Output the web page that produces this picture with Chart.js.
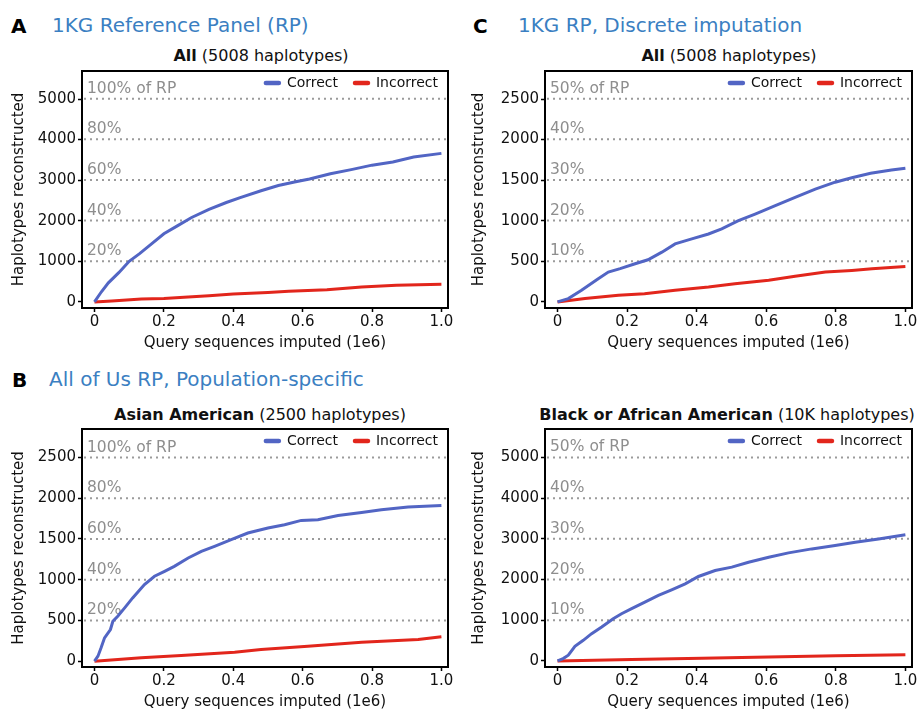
<!DOCTYPE html>
<html>
<head>
<meta charset="utf-8">
<script src="https://cdn.jsdelivr.net/npm/chart.js@4.4.1/dist/chart.umd.min.js"></script>
<style>
  body { margin: 0; background: #fff; font-family: "DejaVu Sans", Verdana, sans-serif; }
  #fig { position: relative; width: 919px; height: 712px; overflow: hidden; }
  .t { position: absolute; white-space: nowrap; line-height: 1; }
  .letter { font-weight: bold; font-size: 20px; color: #000; }
  .head { font-size: 20px; color: #3b7fc2; }
  .sub { font-size: 16px; color: #111; transform: translateX(-50%); }
  .sub b { font-weight: bold; }
  canvas { position: absolute; }
</style>
</head>
<body>
<div id="fig">
  <div class="t letter" style="left:11px;top:16px">A</div>
  <div class="t head" style="left:52px;top:15px">1KG Reference Panel (RP)</div>
  <div class="t letter" style="left:473px;top:16px">C</div>
  <div class="t head" style="left:518px;top:15px">1KG RP, Discrete imputation</div>
  <div class="t letter" style="left:12px;top:370px">B</div>
  <div class="t head" style="left:49px;top:369px">All of Us RP, Population-specific</div>

  <div class="t sub" style="left:261px;top:48px"><b>All</b> (5008 haplotypes)</div>
  <div class="t sub" style="left:729px;top:48px"><b>All</b> (5008 haplotypes)</div>
  <div class="t sub" style="left:260px;top:407px"><b>Asian American</b> (2500 haplotypes)</div>
  <div class="t sub" style="left:727px;top:407px"><b>Black or African American</b> (10K haplotypes)</div>

  <canvas id="cA" width="459" height="293" style="left:0;top:60px"></canvas>
  <canvas id="cC" width="459" height="293" style="left:460px;top:60px"></canvas>
  <canvas id="cB" width="459" height="294" style="left:0;top:418px"></canvas>
  <canvas id="cD" width="459" height="294" style="left:460px;top:418px"></canvas>
</div>
<script>
// axes
const xTicks = [0, 0.2, 0.4, 0.6, 0.8, 1.0];
const xTickLabels = ["0", "0.2", "0.4", "0.6", "0.8", "1.0"];
const yTicks5000 = [0, 1000, 2000, 3000, 4000, 5000];
const yTicks2500 = [0, 500, 1000, 1500, 2000, 2500];
const seriesNames = ["Correct", "Incorrect"];

// dotted "% of RP" reference lines
const fullPct = [1.0, 0.8, 0.6, 0.4, 0.2];
const fullPctLabels = ["100% of RP", "80%", "60%", "40%", "20%"];
const halfPct = [0.5, 0.4, 0.3, 0.2, 0.1];
const halfPctLabels = ["50% of RP", "40%", "30%", "20%", "10%"];

// A: 1KG RP, all 5008 haplotypes (x in 1e6 query sequences)
const aCorrectX = [0, 0.02, 0.04, 0.07, 0.1, 0.13, 0.16, 0.2, 0.24, 0.28, 0.33, 0.38, 0.42, 0.48, 0.53, 0.58, 0.62, 0.68, 0.74, 0.8, 0.86, 0.92, 1.0];
const aCorrectY = [0, 250, 470, 720, 1000, 1190, 1400, 1680, 1880, 2080, 2280, 2450, 2570, 2740, 2870, 2960, 3030, 3160, 3260, 3370, 3450, 3570, 3660];
const aIncorrectX = [0, 0.05, 0.135, 0.2, 0.27, 0.33, 0.4, 0.5, 0.56, 0.67, 0.77, 0.87, 1.0];
const aIncorrectY = [0, 20, 70, 85, 120, 150, 195, 230, 260, 300, 370, 410, 433];

// C: 1KG RP, discrete imputation
const cCorrectX = [0, 0.031, 0.069, 0.117, 0.146, 0.18, 0.223, 0.26, 0.3, 0.338, 0.386, 0.434, 0.472, 0.52, 0.568, 0.626, 0.683, 0.741, 0.798, 0.846, 0.9, 0.96, 1.0];
const cCorrectY = [0, 41, 143, 286, 368, 410, 470, 519, 613, 715, 776, 837, 899, 1001, 1082, 1185, 1287, 1389, 1475, 1530, 1585, 1625, 1648];
const cIncorrectX = [0, 0.079, 0.175, 0.25, 0.338, 0.434, 0.51, 0.607, 0.683, 0.77, 0.846, 0.904, 1.0];
const cIncorrectY = [0, 41, 82, 102, 143, 184, 225, 266, 315, 368, 388, 408, 437];

// B: All of Us, Asian American (2500 haplotypes)
const bCorrectX = [0, 0.01, 0.019, 0.029, 0.046, 0.053, 0.067, 0.087, 0.11, 0.144, 0.173, 0.202, 0.23, 0.27, 0.308, 0.346, 0.394, 0.442, 0.5, 0.548, 0.596, 0.644, 0.702, 0.77, 0.827, 0.904, 1.0];
const bCorrectY = [0, 61, 163, 286, 388, 490, 551, 654, 776, 940, 1042, 1103, 1164, 1266, 1348, 1409, 1491, 1573, 1634, 1675, 1728, 1736, 1789, 1826, 1859, 1891, 1912];
const bIncorrectX = [0, 0.135, 0.25, 0.404, 0.48, 0.615, 0.77, 0.933, 1.0];
const bIncorrectY = [0, 41, 69, 110, 143, 184, 233, 266, 298];

// D: All of Us, Black or African American (10K haplotypes)
const dCorrectX = [0, 0.016, 0.031, 0.05, 0.074, 0.098, 0.127, 0.16, 0.184, 0.213, 0.251, 0.29, 0.328, 0.367, 0.405, 0.453, 0.501, 0.549, 0.607, 0.664, 0.731, 0.798, 0.856, 0.923, 1.0];
const dCorrectY = [0, 57, 139, 359, 506, 670, 833, 1038, 1160, 1283, 1446, 1609, 1748, 1895, 2075, 2222, 2304, 2426, 2549, 2655, 2753, 2835, 2917, 2998, 3100];
const dIncorrectX = [0, 0.213, 0.415, 0.607, 0.8, 1.0];
const dIncorrectY = [0, 33, 65, 98, 125, 150];

const BLUE = "#5265c4";
const RED = "#e2261c";
const FONT = "'DejaVu Sans', Verdana, sans-serif";

const pts = (xs, ys) => xs.map((x, i) => ({ x, y: ys[i] }));

function panel(id, p) {
  const canvas = document.getElementById(id);

  // dotted reference lines + their grey labels, under the data
  const refLines = {
    id: "refLines",
    beforeDatasetsDraw(chart) {
      const { ctx, chartArea: a, scales: { y } } = chart;
      ctx.save();
      p.refValues.forEach((v, i) => {
        const py = y.getPixelForValue(v);
        ctx.strokeStyle = "#9b9b9b";
        ctx.lineWidth = 2;
        ctx.setLineDash([2, 4]);
        ctx.beginPath();
        ctx.moveTo(a.left + 2, py);
        ctx.lineTo(a.right, py);
        ctx.stroke();
        ctx.setLineDash([]);
        ctx.fillStyle = "#8e8e8e";
        ctx.font = `15.5px ${FONT}`;
        ctx.textBaseline = "alphabetic";
        ctx.fillText(p.refLabels[i], a.left + 5, py - 6);
      });
      ctx.restore();
    },
    // frame + inside legend
    afterDraw(chart) {
      const { ctx, chartArea: a } = chart;
      ctx.save();
      ctx.strokeStyle = "#000";
      ctx.lineWidth = 2;
      ctx.strokeRect(a.left, a.top, a.right - a.left, a.bottom - a.top);
      ctx.font = `14px ${FONT}`;
      ctx.textBaseline = "middle";
      let x = a.right - 10;
      const cy = a.top + 12;
      chart.data.datasets.slice().reverse().forEach((ds) => {
        const w = ctx.measureText(ds.label).width;
        x -= w;
        ctx.fillStyle = "#111";
        ctx.fillText(ds.label, x, cy);
        x -= 6;
        ctx.strokeStyle = ds.borderColor;
        ctx.lineWidth = 4.5;
        ctx.lineCap = "round";
        ctx.beginPath();
        ctx.moveTo(x - 15, cy);
        ctx.lineTo(x - 2, cy);
        ctx.stroke();
        x -= 17 + 15;
      });
      ctx.restore();
    },
  };

  return new Chart(canvas, {
    type: "line",
    data: {
      datasets: [
        { label: seriesNames[0], data: pts(p.cx, p.cy), borderColor: BLUE, borderWidth: 3, pointRadius: 0, tension: 0 },
        { label: seriesNames[1], data: pts(p.ix, p.iy), borderColor: RED, borderWidth: 3, pointRadius: 0, tension: 0 },
      ],
    },
    options: {
      responsive: false,
      animation: false,
      layout: { padding: { top: 10, right: p.padRight, bottom: 0, left: 0 } },
      plugins: { legend: { display: false }, tooltip: { enabled: false } },
      scales: {
        x: {
          type: "linear",
          min: -0.036,
          max: 1.019,
          afterBuildTicks: (s) => { s.ticks = xTicks.map((v) => ({ value: v })); },
          afterFit: (s) => { s.height = 45; },
          ticks: { callback: (v, i) => xTickLabels[i], color: "#111", font: { family: FONT, size: 15 }, padding: 1, maxRotation: 0, autoSkip: false },
          grid: { drawOnChartArea: false, tickLength: 4, tickColor: "#000", tickWidth: 1.5 },
          border: { display: false },
          title: { display: true, text: "Query sequences imputed (1e6)", color: "#111", font: { family: FONT, size: 15 }, padding: { top: 0, bottom: 1 } },
        },
        y: {
          type: "linear",
          min: p.yMin,
          max: p.yMax,
          afterBuildTicks: (s) => { s.ticks = p.yTicks.map((v) => ({ value: v })); },
          afterFit: (s) => { s.width = p.yWidth; },
          ticks: { callback: (v) => String(v), color: "#111", font: { family: FONT, size: 15 }, padding: 2 },
          grid: { drawOnChartArea: false, tickLength: 4, tickColor: "#000", tickWidth: 1.5 },
          border: { display: false },
          title: { display: true, text: "Haplotypes reconstructed", color: "#111", font: { family: FONT, size: 15 }, padding: { top: 10, bottom: 0 } },
        },
      },
    },
    plugins: [refLines],
  });
}

panel("cA", {
  cx: aCorrectX, cy: aCorrectY, ix: aIncorrectX, iy: aIncorrectY,
  yMin: -150, yMax: 5690, yTicks: yTicks5000, yWidth: 82, padRight: 11,
  refValues: fullPct.map((f) => f * 5008), refLabels: fullPctLabels,
});
panel("cC", {
  cx: cCorrectX, cy: cCorrectY, ix: cIncorrectX, iy: cIncorrectY,
  yMin: -75, yMax: 2845, yTicks: yTicks2500, yWidth: 85, padRight: 7,
  refValues: halfPct.map((f) => f * 5008), refLabels: halfPctLabels,
});
panel("cB", {
  cx: bCorrectX, cy: bCorrectY, ix: bIncorrectX, iy: bIncorrectY,
  yMin: -72, yMax: 2850, yTicks: yTicks2500, yWidth: 82, padRight: 11,
  refValues: fullPct.map((f) => f * 2500), refLabels: fullPctLabels,
});
panel("cD", {
  cx: dCorrectX, cy: dCorrectY, ix: dIncorrectX, iy: dIncorrectY,
  yMin: -150, yMax: 5700, yTicks: yTicks5000, yWidth: 85, padRight: 7,
  refValues: halfPct.map((f) => f * 10000), refLabels: halfPctLabels,
});
</script>
</body>
</html>
